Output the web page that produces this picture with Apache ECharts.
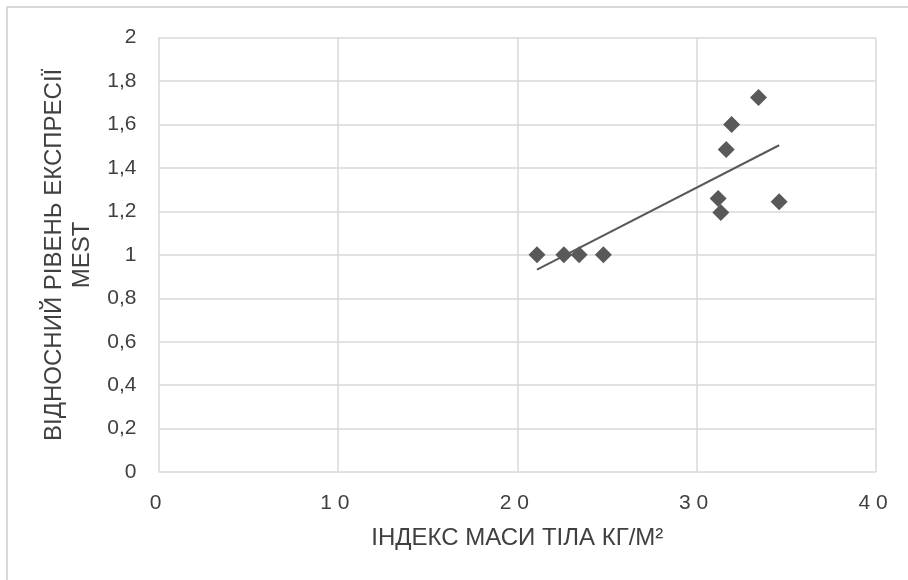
<!DOCTYPE html>
<html>
<head>
<meta charset="utf-8">
<script src="https://cdn.jsdelivr.net/npm/echarts@6/dist/echarts.min.js"></script>
<style>
html,body{margin:0;padding:0;background:#fff;}
#frame{position:absolute;left:6px;top:6px;width:920px;height:600px;border-top:2px solid #d9d9d9;border-left:2px solid #d9d9d9;pointer-events:none;}
#chart{position:absolute;left:0;top:0;width:908px;height:580px;}
</style>
</head>
<body>
<div id="chart"></div>
<div id="frame"></div>
<script>
// Data
const bmi = [21.1, 22.6, 23.45, 24.8, 31.2, 31.35, 31.65, 31.95, 33.45, 34.6];
const mestLevel = [1.0, 1.0, 1.0, 1.0, 1.26, 1.195, 1.485, 1.6, 1.725, 1.245];
const xTitle = 'ІНДЕКС МАСИ ТІЛА КГ/М²';
const yTitle = 'ВІДНОСНИЙ РІВЕНЬ ЕКСПРЕСІЇ\nMEST';

// Linear trend line (least squares) from the data
const n = bmi.length;
const mx = bmi.reduce((a, b) => a + b, 0) / n;
const my = mestLevel.reduce((a, b) => a + b, 0) / n;
let sxy = 0, sxx = 0;
for (let i = 0; i < n; i++) { sxy += (bmi[i] - mx) * (mestLevel[i] - my); sxx += (bmi[i] - mx) ** 2; }
const slope = sxy / sxx, icpt = my - slope * mx;
const xMin = Math.min(...bmi), xMax = Math.max(...bmi);
const trend = [[xMin, icpt + slope * xMin], [xMax, icpt + slope * xMax]];

const txt = '#404040';
const font = 'Liberation Sans, Arial, sans-serif';
const chart = echarts.init(document.getElementById('chart'), null, {renderer: 'canvas'});
chart.setOption({
  animation: false,
  backgroundColor: '#fff',
  grid: {left: 158.5, right: 32, top: 37.7, bottom: 108, containLabel: false},
  xAxis: {
    type: 'value', min: 0, max: 40, interval: 10,
    axisLine: {show: false}, axisTick: {show: false},
    splitLine: {show: true, lineStyle: {color: '#d9d9d9', width: 1.5}},
    axisLabel: {color: txt, fontFamily: font, fontSize: 21, margin: 21, padding: [0, 6, 0, 0],
      formatter: v => String(v).split('').join(' ')},
    name: xTitle, nameLocation: 'middle', nameGap: 54,
    nameTextStyle: {color: txt, fontFamily: font, fontSize: 24}
  },
  yAxis: {
    type: 'value', min: 0, max: 2, interval: 0.2,
    axisLine: {show: false}, axisTick: {show: false},
    splitLine: {show: true, lineStyle: {color: '#d9d9d9', width: 1.5}},
    axisLabel: {color: txt, fontFamily: font, fontSize: 21, margin: 22,
      formatter: v => String(Math.round(v * 10) / 10).replace('.', ',')},
    name: yTitle, nameLocation: 'middle', nameRotate: 90, nameGap: 60,
    nameTextStyle: {color: txt, fontFamily: font, fontSize: 24, lineHeight: 28, align: 'center'}
  },
  series: [
    {
      type: 'line', data: trend, symbol: 'none', silent: true,
      lineStyle: {color: '#595959', width: 2}, z: 3
    },
    {
      type: 'scatter', data: bmi.map((x, i) => [x, mestLevel[i]]),
      symbol: 'diamond', symbolSize: [17, 17],
      itemStyle: {color: '#595959', opacity: 1}, z: 4
    }
  ]
});
</script>
</body>
</html>
